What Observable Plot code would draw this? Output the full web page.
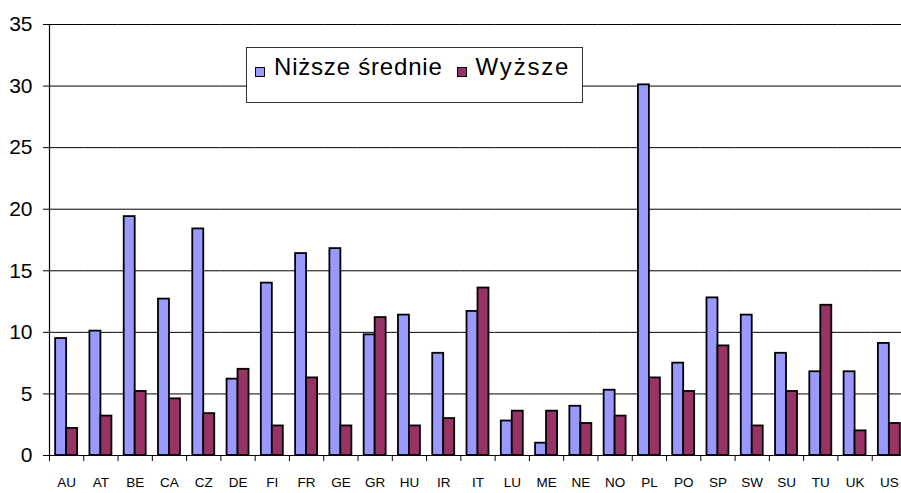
<!DOCTYPE html>
<html>
<head>
<meta charset="utf-8">
<script src="https://cdn.jsdelivr.net/npm/d3@7"></script>
<script src="https://cdn.jsdelivr.net/npm/@observablehq/plot@0.6"></script>
<style>
  html, body { margin: 0; padding: 0; background: #fff; }
  #wrap { position: relative; width: 901px; height: 493px; overflow: hidden; font-family: "Liberation Sans", Arial, sans-serif; }
  #legend { position: absolute; left: 246px; top: 47px; width: 335px; height: 54px; border: 1px solid #333; background: #fff;
            box-sizing: content-box; font-size: 24px; line-height: 24px; letter-spacing: 0.8px; color: #000;
            padding: 0; }
  #legend .row { position: absolute; left: 8px; top: 7px; display: flex; align-items: baseline; white-space: nowrap; }
  .sw { width: 8px; height: 8px; border: 1.5px solid #000; position: relative; top: 2px; margin-right: 9px; }
  .gap { width: 14px; }
  #legend .last { letter-spacing: 1.8px; }
</style>
</head>
<body>
<div id="wrap">
  <div id="chart"></div>
  <div id="legend"><div class="row" id="legrow"></div></div>
</div>
<script>
const countries = ["AU","AT","BE","CA","CZ","DE","FI","FR","GE","GR","HU","IR","IT","LU","ME","NE","NO","PL","PO","SP","SW","SU","TU","UK","US"];
const seriesNames = ["Niższe średnie", "Wyższe"];
const lower  = [9.5,10.1,19.4,12.7,18.4,6.2,14.0,16.4,16.8,9.8,11.4,8.3,11.7,2.8,1.0,4.0,5.3,30.1,7.5,12.8,11.4,8.3,6.8,6.8,9.1];
const higher = [2.2,3.2,5.2,4.6,3.4,7.0,2.4,6.3,2.4,11.2,2.4,3.0,13.6,3.6,3.6,2.6,3.2,6.3,5.2,8.9,2.4,5.2,12.2,2.0,2.6];
const seriesColors = ["#9999FF", "#993366"];
const yTicks = [0,5,10,15,20,25,30,35];

const data = [];
countries.forEach((c, i) => {
  data.push({country: c, series: seriesNames[0], value: lower[i]});
  data.push({country: c, series: seriesNames[1], value: higher[i]});
});

const W = 901, H = 493;
const mL = 49, mR = -5, mT = 24, mB = 38;
const step = (W - mL - mR) / countries.length;

const chart = Plot.plot({
  width: W,
  height: H,
  marginLeft: mL,
  marginRight: mR,
  marginTop: mT,
  marginBottom: mB,
  style: {fontFamily: "'Liberation Sans', Arial, sans-serif", background: "#fff", overflow: "visible"},
  fx: {domain: countries, padding: 0, round: false, label: null},
  x: {domain: seriesNames, paddingInner: 0, paddingOuter: 0.56, round: false, axis: null},
  y: {domain: [0, 35], label: null},
  color: {domain: seriesNames, range: seriesColors},
  marks: [
    Plot.ruleY(yTicks.filter(d => d > 0), {stroke: "#000", strokeWidth: 1}),
    Plot.barY(data, {fx: "country", x: "series", y: "value", fill: "series", stroke: "#000", strokeWidth: 1.8}),
    Plot.ruleY([0], {stroke: "#000", strokeWidth: 1.2}),
    Plot.ruleX(countries, {fx: d => d, x: null, y1: 0, y2: 0, insetBottom: -6, dx: -step / 2, stroke: "#000", strokeWidth: 1}),
    Plot.ruleX(countries.slice(0, 1), {fx: d => d, x: null, dx: -step / 2, stroke: "#000", strokeWidth: 1.2}),
    Plot.axisY({ticks: yTicks, tickSize: 6, tickPadding: 11, fontSize: 21, tickFormat: d => String(d), stroke: "#000", color: "#000"}),
    Plot.axisFx({anchor: "bottom", tickSize: 0, tickPadding: 22, fontSize: 13.5, color: "#000", label: null})
  ]
});
document.getElementById("chart").appendChild(chart);

const row = document.getElementById("legrow");
seriesNames.forEach((name, i) => {
  if (i > 0) { const g = document.createElement("div"); g.className = "gap"; row.appendChild(g); }
  const sw = document.createElement("div");
  sw.className = "sw";
  sw.style.background = seriesColors[i];
  const t = document.createElement("span");
  t.textContent = name;
  if (i === seriesNames.length - 1) t.className = "last";
  row.appendChild(sw);
  row.appendChild(t);
});
</script>
</body>
</html>
